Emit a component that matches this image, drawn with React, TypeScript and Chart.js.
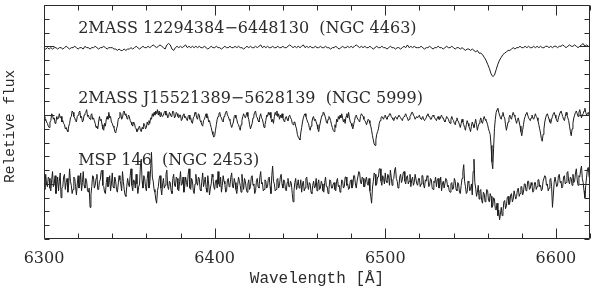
import { useEffect, useRef } from 'react';
import { Chart, registerables } from 'chart.js';

Chart.register(...registerables);

// Wavelength grid (Angstrom)
const WL_START = 6300;
const STEPS = [1, 0.5, 0.5];
const X_MIN = 6300;
const X_MAX = 6620;
const Y_MIN = -0.4;
const Y_MAX = 1.3;
const X_MINOR = 20;
const X_MAJOR = 100;
const Y_MINOR = 0.1;
const Y_MAJOR = 0.5;
const X_TICK_LABELS = ['6300', '6400', '6500', '6600'];

const NAMES = [
  '2MASS 12294384\u22126448130  (NGC 4463)',
  '2MASS J15521389\u22125628139  (NGC 5999)',
  'MSP 146  (NGC 2453)',
];
// vertical offsets of each spectrum (continuum level)
const OFFSETS = [0.99, 0.48, 0.01];

// Relative flux in percent of continuum, 6300..6620 A, 1 A steps
const S1 = [
  99,99,100,99,100,99,100,100,99,100,
  100,99,100,101,100,99,100,100,101,100,
  99,100,100,99,101,100,100,99,100,100,
  101,100,99,100,100,101,100,99,100,100,
  100,99,99,98,99,98,98,99,98,99,
  99,100,99,100,101,100,99,100,101,100,
  100,101,100,101,102,101,100,101,102,101,
  100,99,102,103,102,99,98,100,101,100,
  101,100,101,102,100,101,100,101,100,101,
  100,101,100,100,101,100,99,100,101,100,
  100,101,100,100,99,100,101,100,100,101,
  100,100,101,100,101,100,100,99,100,101,
  100,101,100,100,101,100,101,102,100,101,
  100,101,100,100,101,100,100,101,100,100,
  101,100,100,101,102,101,100,101,100,101,
  100,101,102,100,101,100,101,100,100,101,
  100,100,101,100,100,101,100,100,99,100,
  100,101,100,99,100,101,100,100,101,100,
  101,100,101,102,101,100,101,100,101,100,
  100,101,100,99,100,101,100,100,101,100,
  100,99,100,101,100,100,99,100,100,99,
  100,101,100,102,100,101,100,101,100,100,
  100,101,100,99,100,100,101,100,99,100,
  100,101,100,100,99,100,101,100,100,101,
  100,99,100,100,99,100,99,98,99,99,
  98,99,98,97,98,96,96,95,93,91,
  88,85,81,79,80,84,88,91,93,95,
  96,97,98,98,99,100,99,100,100,101,
  100,100,101,100,101,100,100,101,100,101,
  100,101,100,100,101,101,100,101,100,101,
  101,100,101,101,102,101,100,101,102,101,
  101,102,101,100,101,102,103,101,102,101,
  101,
];

// 6300..6620 A, 0.5 A steps
const S2 = [
  101,98,99,97,96,94,93,97,98,103,102,99,100,96,97,101,99,100,103,100,
  101,97,98,96,95,92,93,91,90,94,96,100,101,105,104,101,100,98,97,101,
  102,104,105,100,101,97,98,102,103,104,106,101,102,100,99,102,103,99,100,98,
  96,93,94,92,97,101,98,99,95,92,91,96,94,99,101,99,104,100,101,97,
  96,94,93,90,89,92,94,99,100,104,103,99,100,104,105,102,103,100,99,102,
  101,98,97,95,94,97,96,93,92,90,91,93,94,91,90,93,92,96,95,92,
  93,97,95,98,96,100,99,103,101,104,102,105,103,106,102,105,101,104,102,101,
  102,104,105,102,103,100,101,104,103,101,102,105,104,100,101,104,103,101,100,102,
  102,98,99,102,103,100,101,99,98,101,102,99,100,97,96,100,101,104,103,100,
  99,103,102,98,97,95,94,98,99,101,103,100,101,97,98,95,93,90,88,86,
  87,91,95,99,101,103,104,101,100,98,97,101,102,104,105,102,101,99,98,95,
  93,95,97,101,102,100,99,96,95,93,91,95,98,101,103,101,100,102,104,101,
  99,95,92,94,96,100,102,104,105,101,100,98,97,101,103,100,99,96,93,95,
  98,102,101,104,102,104,100,97,99,96,101,104,102,105,101,103,99,102,100,103,
  100,98,97,100,101,99,98,101,102,100,99,96,95,97,97,94,92,88,86,85,
  84,89,93,97,100,102,103,101,99,97,96,93,91,94,97,100,101,98,99,97,
  95,92,90,94,97,100,102,104,104,102,100,97,96,99,101,100,98,95,93,91,
  90,95,93,99,97,101,99,102,100,103,100,97,99,96,101,103,100,104,100,97,
  96,94,92,95,98,101,102,100,100,98,97,101,103,102,101,99,98,97,95,97,
  99,98,96,94,91,87,84,81,80,84,88,90,92,96,98,100,101,100,99,101,
  102,100,99,101,101,103,103,101,100,99,98,100,101,100,99,101,102,101,100,99,
  98,100,101,102,103,101,100,98,99,101,102,104,104,102,101,99,99,101,100,101,
  102,100,99,100,101,99,98,99,100,102,103,101,101,99,99,101,102,101,100,99,
  98,100,101,99,99,101,102,100,100,98,97,99,101,100,99,97,96,99,101,99,
  98,96,95,98,100,98,97,95,93,96,99,97,95,93,91,95,98,96,94,92,
  90,94,97,95,93,96,99,95,91,94,96,98,100,97,96,99,101,99,98,97,
  95,92,90,88,80,68,63,78,92,99,104,106,107,104,102,100,99,102,104,101,
  100,95,91,94,97,100,102,100,99,102,104,102,101,98,96,99,100,97,94,90,
  87,91,95,99,101,103,104,102,100,99,98,100,102,100,99,101,103,101,100,98,
  95,92,89,85,83,88,92,97,100,102,103,101,99,97,96,99,101,103,104,102,
  100,98,97,100,102,104,105,103,101,99,98,101,104,102,100,98,94,90,87,92,
  96,100,102,104,105,103,101,104,106,103,100,102,103,105,107,104,102,103,104,102,
  101,
];

// 6300..6620 A, 0.5 A steps
const S3 = [
  100,95,106,99,97,104,103,96,94,102,108,97,99,105,92,98,104,94,101,107,
  89,96,97,104,106,95,100,103,93,99,110,101,98,92,95,104,103,97,91,99,
  105,96,99,107,94,100,108,98,96,103,101,94,93,96,82,91,97,105,104,96,
  98,103,106,95,95,101,102,108,109,98,97,93,92,100,104,97,99,105,94,99,
  107,97,96,104,101,95,93,99,105,102,99,94,108,101,95,91,90,97,103,99,
  97,105,110,98,94,102,101,96,106,99,92,97,99,112,117,101,96,105,103,97,
  94,103,108,96,99,110,122,104,101,95,93,88,85,94,97,103,105,96,91,99,
  103,96,98,106,109,97,95,101,100,94,92,103,106,98,97,104,103,95,94,101,
  108,98,99,104,93,97,104,100,97,106,110,96,95,103,101,94,92,99,106,100,
  98,104,103,95,94,101,107,97,100,104,96,93,105,99,91,96,99,106,104,97,
  95,101,102,96,108,99,97,104,93,98,105,101,99,93,94,102,103,97,98,104,
  107,97,96,103,100,95,92,98,104,101,98,93,106,100,95,103,101,96,93,99,
  102,95,97,104,105,98,99,92,94,101,103,97,96,104,108,99,100,94,95,102,
  101,96,97,103,104,97,92,105,112,101,99,94,95,102,103,96,98,104,106,99,
  96,102,101,95,94,100,103,97,97,101,99,92,86,94,100,103,95,98,102,96,
  97,102,93,99,101,94,96,103,104,98,95,100,99,93,92,98,101,96,97,103,
  94,99,102,95,96,101,99,94,93,100,104,97,97,92,95,102,101,96,96,99,
  100,95,94,101,103,97,98,93,95,102,101,96,97,104,104,98,99,95,96,101,
  102,96,98,105,105,99,96,101,101,108,107,100,99,104,103,97,97,102,104,99,
  98,103,94,90,85,96,101,107,106,98,99,104,104,110,110,101,98,105,103,99,
  107,101,100,106,104,98,109,104,98,102,103,109,111,103,101,96,97,104,106,100,
  102,107,108,101,99,104,105,99,101,106,97,102,104,98,100,106,106,99,98,103,
  103,97,99,105,105,98,96,102,101,105,104,97,98,103,102,96,95,101,100,104,
  97,102,103,96,99,104,94,99,101,96,96,103,102,97,98,94,93,99,100,95,
  96,103,101,95,94,100,99,93,92,98,103,108,113,101,97,92,93,101,100,94,
  95,99,91,108,117,100,96,90,93,98,88,94,95,87,85,93,92,86,89,95,
  94,87,86,92,90,82,83,89,88,81,80,85,76,80,73,77,82,76,79,86,
  87,81,83,89,90,84,85,91,92,86,88,94,94,88,90,95,96,90,92,97,
  97,91,93,99,99,94,95,101,101,95,96,100,98,93,94,100,100,95,97,102,
  102,97,98,94,95,101,101,105,104,98,99,94,96,102,103,97,82,91,100,104,
  104,97,98,105,106,100,101,96,97,104,105,99,100,107,108,101,99,104,103,98,
  106,100,101,107,110,102,98,105,104,109,112,103,100,94,89,98,104,110,111,104,
  103,
];

const SPECTRA = [S1, S2, S3];

// label anchors (data coords)
const LABEL_X = 6320;
const LABEL_Y = [1.1, 0.59, 0.14];

const INK = '#2b2b2b';

const framePlugin = {
  id: 'frameTicks',
  afterDraw(chart: any) {
    const { ctx, chartArea: a, scales } = chart;
    const xs = scales.x;
    const ys = scales.y;
    ctx.save();
    ctx.strokeStyle = INK;
    ctx.lineWidth = 1;
    const L = Math.round(a.left) + 0.5;
    const R = Math.round(a.right) - 0.5;
    const T = Math.round(a.top) + 0.5;
    const B = Math.round(a.bottom) - 0.5;
    ctx.beginPath();
    ctx.rect(L, T, R - L, B - T);
    ctx.stroke();
    ctx.beginPath();
    for (let v = X_MIN; v <= X_MAX + 1e-9; v += X_MINOR) {
      const px = Math.round(xs.getPixelForValue(v)) + 0.5;
      const len = v % X_MAJOR === 0 ? 10 : 5;
      ctx.moveTo(px, B);
      ctx.lineTo(px, B - len);
      ctx.moveTo(px, T);
      ctx.lineTo(px, T + len);
    }
    for (let i = 0; ; i++) {
      const v = Y_MIN + i * Y_MINOR;
      if (v > Y_MAX + 1e-9) break;
      const r = v / Y_MAJOR;
      const major = Math.abs(r - Math.round(r)) < 1e-6;
      const len = major ? 10 : 5;
      const py = Math.round(ys.getPixelForValue(v)) + 0.5;
      ctx.moveTo(L, py);
      ctx.lineTo(L + len, py);
      ctx.moveTo(R, py);
      ctx.lineTo(R - len, py);
    }
    ctx.stroke();

    ctx.fillStyle = INK;
    ctx.font = '16px "DejaVu Serif"';
    ctx.textBaseline = 'alphabetic';
    ctx.textAlign = 'left';
    NAMES.forEach((name, k) => {
      ctx.fillText(name, xs.getPixelForValue(LABEL_X), ys.getPixelForValue(LABEL_Y[k]));
    });
    ctx.restore();
  },
};

export default function App() {
  const ref = useRef<HTMLCanvasElement | null>(null);
  useEffect(() => {
    document.body.style.margin = '0';
    const canvas = ref.current;
    if (!canvas) return;
    const chart = new Chart(canvas, {
      type: 'line',
      data: {
        datasets: SPECTRA.map((s, k) => ({
          label: NAMES[k],
          data: s.map((v, i) => ({ x: WL_START + i * STEPS[k], y: (v - 100) / 100 + OFFSETS[k] })),
          borderColor: '#1c1c1c',
          borderWidth: 1,
          pointRadius: 0,
          tension: 0,
          fill: false,
        })),
      },
      options: {
        animation: false,
        responsive: false,
        devicePixelRatio: 1,
        events: [],
        layout: { padding: { top: 5, right: 4, left: 0, bottom: 0 } },
        plugins: { legend: { display: false }, tooltip: { enabled: false } },
        scales: {
          x: {
            type: 'linear',
            min: X_MIN,
            max: X_MAX,
            grid: { display: false, drawTicks: false },
            border: { display: false },
            ticks: {
              stepSize: X_MINOR,
              autoSkip: false,
              maxRotation: 0,
              padding: 10,
              color: INK,
              font: { family: 'DejaVu Serif', size: 16 },
              callback: (v: any) => (X_TICK_LABELS.includes(String(v)) ? String(v) : ''),
            },
            title: {
              display: true,
              text: 'Wavelength [\u00c5]',
              color: INK,
              font: { family: 'Liberation Mono', size: 16 },
              padding: { top: 0, bottom: 4 },
            },
            afterFit: (s: any) => {
              s.height = 53;
            },
          },
          y: {
            type: 'linear',
            min: Y_MIN,
            max: Y_MAX,
            grid: { display: false, drawTicks: false },
            border: { display: false },
            ticks: { display: false },
            title: {
              display: true,
              text: 'Reletive flux ',
              color: INK,
              font: { family: 'Liberation Mono', size: 14.5 },
              padding: { top: 1, bottom: 0 },
            },
            afterFit: (s: any) => {
              s.width = 44;
            },
          },
        },
      },
      plugins: [framePlugin],
    } as any);
    return () => chart.destroy();
  }, []);
  return (
    <div style={{ position: 'absolute', left: 0, top: 0, width: 600, height: 292, background: '#fff' }}>
      <canvas ref={ref} width={600} height={292} />
    </div>
  );
}
